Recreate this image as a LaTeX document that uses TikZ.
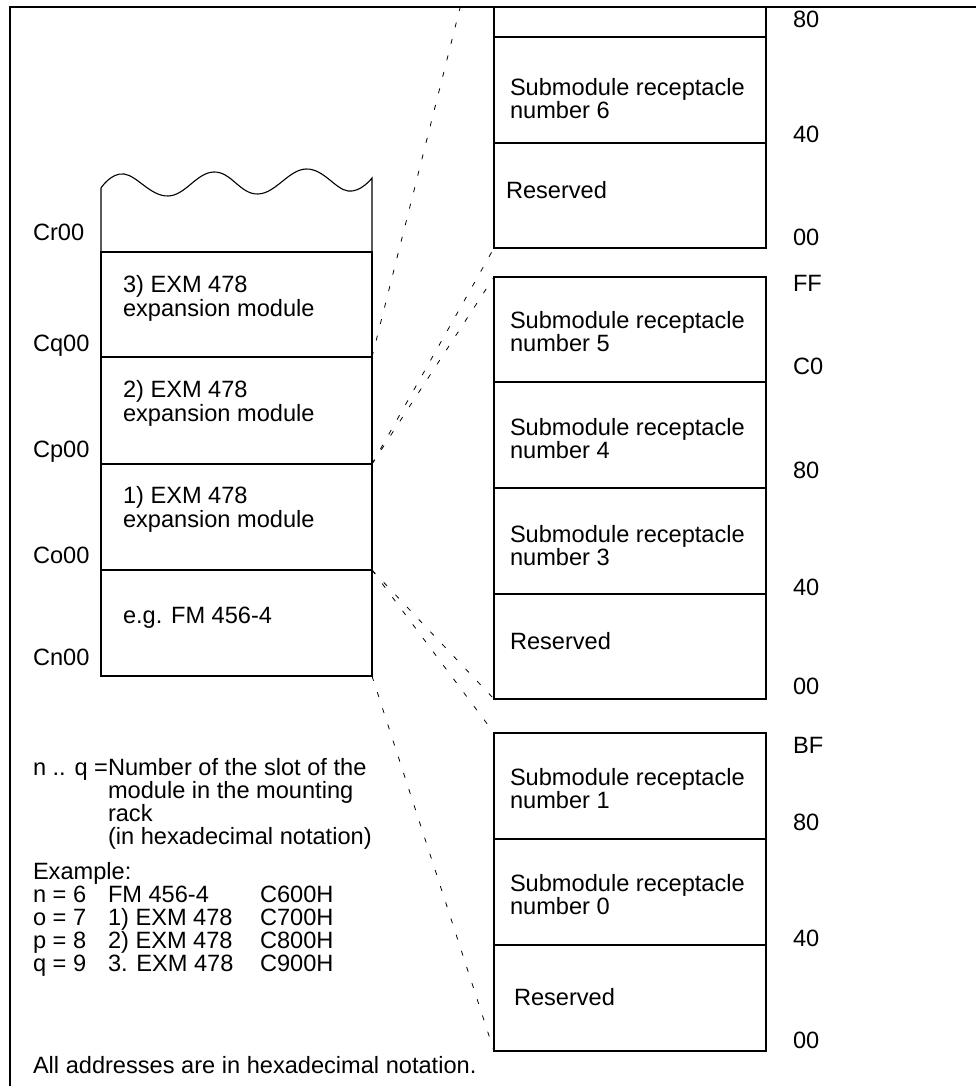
\documentclass[tikz,border=0pt]{standalone}
\usepackage{fontspec}
\setmainfont{Liberation Sans}
\begin{document}
\begin{tikzpicture}[x=1pt,y=-1pt,
  box/.style={draw, line width=1.1pt, inner sep=0pt, outer sep=0pt, anchor=north west},
  lbox/.style={box, minimum width=271pt},
  rbox/.style={box, minimum width=272pt},
  txt/.style={anchor=base west, inner sep=0pt, outer sep=0pt, font=\fontsize{23.6}{25}\selectfont},
  lnk/.style={line width=0.8pt, dash pattern=on 5pt off 12pt}]
\useasboundingbox (0,0) rectangle (976,1086);
% frame
\draw[line width=1.1pt] (976,7) -- (10,7) -- (10,1086);
% left stack
\draw[line width=1.1pt] (101,252) -- (101,188)
  plot[smooth, tension=0.7] coordinates {(101,188) (124,174) (168,196) (214,172) (258,194) (306,169) (348,191) (372,178)}
  -- (372,252);
\node[lbox, minimum height=105pt] (m3) at (101,252) {};
\node[lbox, minimum height=107pt] (m2) at (101,357) {};
\node[lbox, minimum height=106pt] (m1) at (101,464) {};
\node[lbox, minimum height=106pt] (fm) at (101,570) {};
\node[txt] (t3a) at (123,292) {3) EXM 478};
\node[txt] (t3b) at (123,316) {expansion module};
\node[txt] (t2a) at (123,397) {2) EXM 478};
\node[txt] (t2b) at (123,421) {expansion module};
\node[txt] (t1a) at (123,503) {1) EXM 478};
\node[txt] (t1b) at (123,527) {expansion module};
\node[txt] (tfm) at (123,623) {e.g. FM 456-4};
% left address labels
\node[txt] (cr) at (33,240) {Cr00};
\node[txt] (cq) at (33,351) {Cq00};
\node[txt] (cp) at (33,457) {Cp00};
\node[txt] (co) at (33,563) {Co00};
\node[txt] (cn) at (33,665) {Cn00};
% right top group
\node[rbox, minimum height=30pt] (r7) at (494,7) {};
\node[rbox, minimum height=106pt] (r6) at (494,37) {};
\node[rbox, minimum height=105pt] (rr1) at (494,143) {};
% right middle group
\node[rbox, minimum height=105pt] (r5) at (494,277) {};
\node[rbox, minimum height=106pt] (r4) at (494,382) {};
\node[rbox, minimum height=106pt] (r3) at (494,488) {};
\node[rbox, minimum height=105pt] (rr2) at (494,594) {};
% right bottom group
\node[rbox, minimum height=106pt] (r1) at (494,733) {};
\node[rbox, minimum height=106pt] (r0) at (494,839) {};
\node[rbox, minimum height=106pt] (rr3) at (494,945) {};
% right texts
\node[txt] (s6a) at (510,96) {Submodule receptacle};
\node[txt] (s6b) at (510,119) {number 6};
\node[txt] (res1) at (506,199) {Reserved};
\node[txt] (s5a) at (510,328) {Submodule receptacle};
\node[txt] (s5b) at (510,351) {number 5};
\node[txt] (s4a) at (510,435) {Submodule receptacle};
\node[txt] (s4b) at (510,458) {number 4};
\node[txt] (s3a) at (510,542) {Submodule receptacle};
\node[txt] (s3b) at (510,565) {number 3};
\node[txt] (res2) at (510,649) {Reserved};
\node[txt] (s1a) at (510,785) {Submodule receptacle};
\node[txt] (s1b) at (510,808) {number 1};
\node[txt] (s0a) at (510,891) {Submodule receptacle};
\node[txt] (s0b) at (510,914) {number 0};
\node[txt] (res3) at (514,1005) {Reserved};
% right address labels
\node[txt] (a1) at (793,28) {80};
\node[txt] (a2) at (793,143) {40};
\node[txt] (a3) at (793,245) {00};
\node[txt] (a4) at (793,291) {FF};
\node[txt] (a5) at (793,374) {C0};
\node[txt] (a6) at (793,478) {80};
\node[txt] (a7) at (793,595) {40};
\node[txt] (a8) at (793,694) {00};
\node[txt] (a9) at (793,753) {BF};
\node[txt] (a10) at (793,830) {80};
\node[txt] (a11) at (793,946) {40};
\node[txt] (a12) at (793,1048) {00};
% connectors
\coordinate (topend) at (462,0);
\draw[lnk] (m2.north east) -- (topend);
\draw[lnk] (m1.north east) -- (rr1.south west);
\draw[lnk] (m1.north east) -- (r5.north west);
\draw[lnk] (fm.north east) -- (rr2.south west);
\draw[lnk] (fm.north east) -- (r1.north west);
\draw[lnk] (fm.south east) -- (rr3.south west);
% notes
\node[txt] (n1) at (33,775) {n .. q =Number of the slot of the};
\node[txt] (n2) at (108,798) {module in the mounting};
\node[txt] (n3) at (108,821) {rack};
\node[txt] (n4) at (108,844) {(in hexadecimal notation)};
\node[txt] (ex) at (33,879) {Example:};
\node[txt] (e1a) at (33,902) {n = 6};
\node[txt] (e1b) at (108,902) {FM 456-4};
\node[txt] (e1c) at (260,902) {C600H};
\node[txt] (e2a) at (33,925) {o = 7};
\node[txt] (e2b) at (108,925) {1) EXM 478};
\node[txt] (e2c) at (260,925) {C700H};
\node[txt] (e3a) at (33,948) {p = 8};
\node[txt] (e3b) at (108,948) {2) EXM 478};
\node[txt] (e3c) at (260,948) {C800H};
\node[txt] (e4a) at (33,971) {q = 9};
\node[txt] (e4b) at (108,971) {3. EXM 478};
\node[txt] (e4c) at (260,971) {C900H};
\node[txt] (all) at (33,1073) {All addresses are in hexadecimal notation.};
\end{tikzpicture}
\end{document}
